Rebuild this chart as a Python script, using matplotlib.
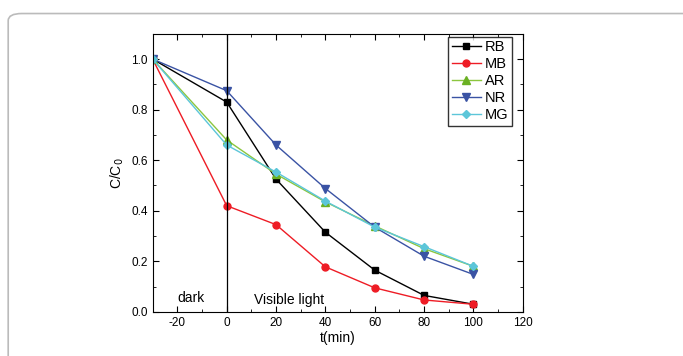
import matplotlib
matplotlib.use("Agg")
import matplotlib.pyplot as plt
from matplotlib.patches import FancyBboxPatch
from matplotlib.ticker import MultipleLocator

plt.rcParams['font.family'] = ['Liberation Sans', 'DejaVu Sans']
plt.rcParams['axes.unicode_minus'] = False

t = [-30, 0, 20, 40, 60, 80, 100]
rb = [1.0, 0.83, 0.525, 0.315, 0.165, 0.065, 0.03]
mb = [1.0, 0.42, 0.345, 0.178, 0.095, 0.047, 0.03]
ar = [1.0, 0.68, 0.545, 0.435, 0.34, 0.25, 0.18]
nr = [1.0, 0.875, 0.66, 0.488, 0.335, 0.22, 0.148]
mg = [1.0, 0.66, 0.553, 0.438, 0.335, 0.258, 0.18]

fig = plt.figure(figsize=(6.83, 3.56), dpi=100)

# rounded gray frame around the figure
frame = FancyBboxPatch((0.012, -0.1), 1.1, 1.062, boxstyle="round,pad=0,rounding_size=0.02",
                       transform=fig.transFigure, fill=False, edgecolor='#bbbbbb', linewidth=1.2)
fig.patches.append(frame)

ax = fig.add_axes([0.2235, 0.124, 0.542, 0.781])

ax.plot(t, rb, color='black', marker='s', markersize=5, linewidth=1, label='RB')
ax.plot(t, mb, color='#ee1c25', marker='o', markersize=5, linewidth=1, label='MB')
ax.plot(t, ar, color='#8cc63f', marker='^', markersize=6, linewidth=1,
        markerfacecolor='#6ab023', markeredgecolor='#6ab023', label='AR')
ax.plot(t, nr, color='#3a53a4', marker='v', markersize=6, linewidth=1, label='NR')
ax.plot(t, mg, color='#5cc6d9', marker='D', markersize=4.5, linewidth=1, label='MG')

ax.axvline(0, color='black', linewidth=0.9)
ax.text(-20, 0.04, 'dark', fontsize=10)
ax.text(11, 0.03, 'Visible light', fontsize=10)

ax.set_xlim(-30, 120)
ax.set_ylim(0, 1.1)
ax.xaxis.set_major_locator(MultipleLocator(20))
ax.xaxis.set_minor_locator(MultipleLocator(10))
ax.yaxis.set_major_locator(MultipleLocator(0.2))
ax.yaxis.set_minor_locator(MultipleLocator(0.1))
ax.tick_params(which='both', direction='in', top=True, right=True, labelsize=8.5)
ax.tick_params(which='major', length=4)
ax.tick_params(which='minor', length=2)
ax.set_xticks([-20, 0, 20, 40, 60, 80, 100, 120])
ax.set_yticks([0.0, 0.2, 0.4, 0.6, 0.8, 1.0])
ax.set_yticklabels(['0.0', '0.2', '0.4', '0.6', '0.8', '1.0'])

ax.set_xlabel('t(min)', fontsize=10, labelpad=2)
ax.set_ylabel('C/C$_0$', fontsize=10, labelpad=4)

leg = ax.legend(loc='upper right', bbox_to_anchor=(0.972, 0.99), fontsize=10.5,
                frameon=True, fancybox=False, edgecolor='black', handlelength=2.0,
                handletextpad=0.3, labelspacing=0.2, borderpad=0.25, borderaxespad=0)
leg.get_frame().set_linewidth(1)

fig.savefig('out.png', dpi=100)
